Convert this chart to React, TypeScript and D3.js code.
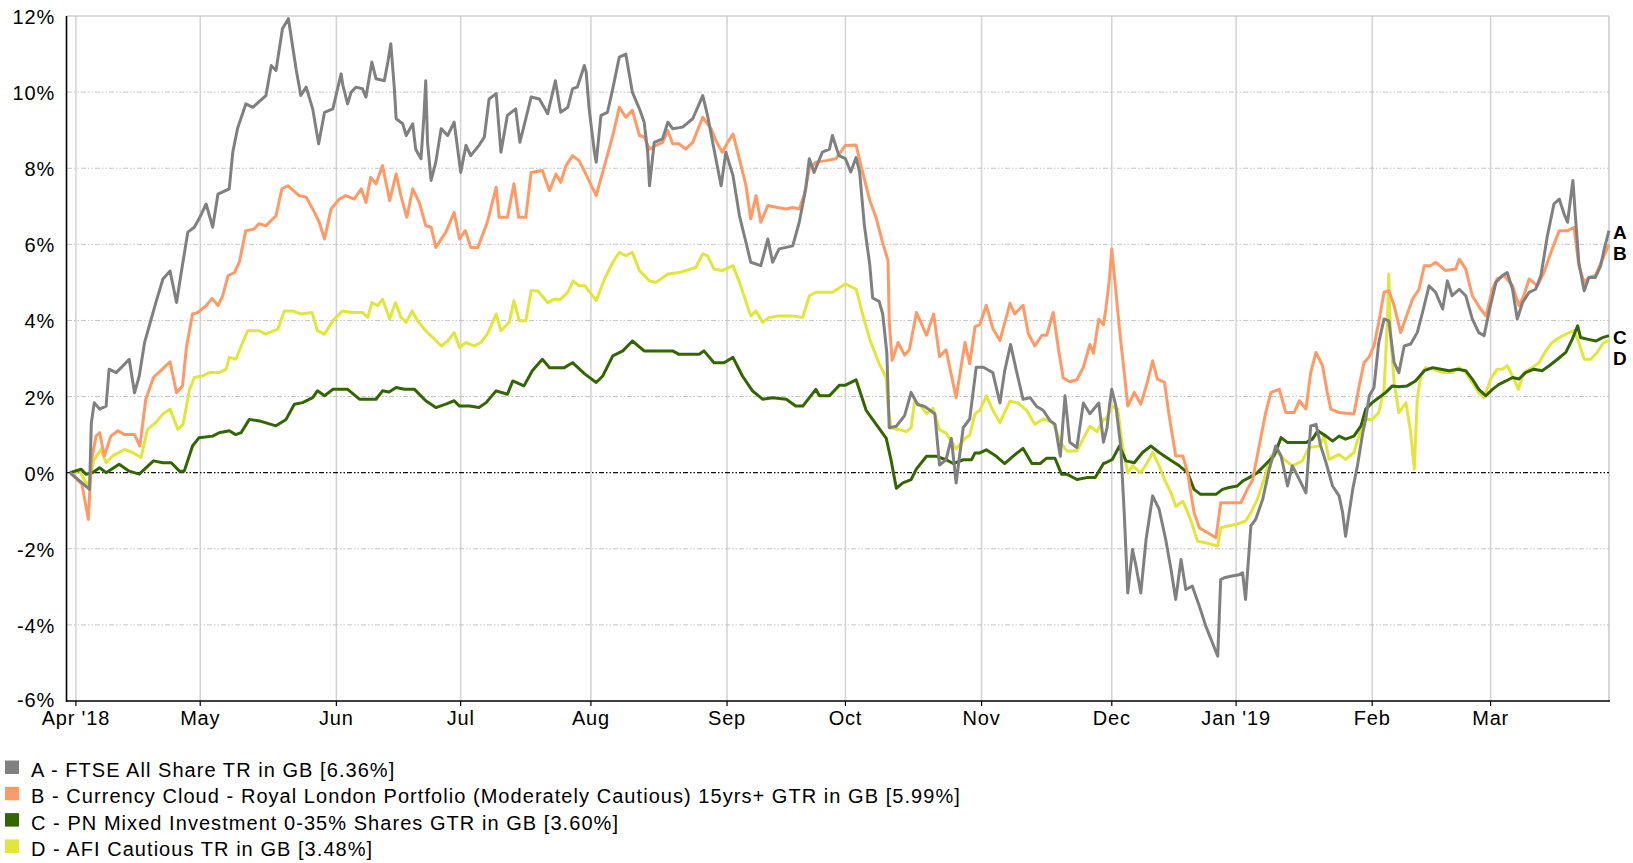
import React from "react";
import * as d3 from "d3";

// x values are trading-day (weekday) numbers counted from 30 Mar 2018; y values are % returns
const START_DATE = "2018-03-30";
const LAST_DAY = 260;

const monthTickDates = ["2018-04-02","2018-05-01","2018-06-01","2018-07-02","2018-08-01","2018-09-03","2018-10-01","2018-11-01","2018-12-03","2019-01-01","2019-02-01","2019-03-01"];
const monthTickLabels = ["Apr '18","May","Jun","Jul","Aug","Sep","Oct","Nov","Dec","Jan '19","Feb","Mar"];
const yTicks = [-6,-4,-2,0,2,4,6,8,10,12];

const seriesNames = [
  "A - FTSE All Share TR in GB [6.36%]",
  "B - Currency Cloud - Royal London Portfolio (Moderately Cautious) 15yrs+ GTR in GB [5.99%]",
  "C - PN Mixed Investment 0-35% Shares GTR in GB [3.60%]",
  "D - AFI Cautious TR in GB [3.48%]",
];
const seriesKeys = ["A","B","C","D"];
const seriesColors = ["#808080","#FF9966","#336600","#E0E63A"];

const seriesA: [number, number][] = [
  [0,0],[3.3,-0.44],[3.6,1.3],[4.1,1.84],[5,1.67],[6.1,1.75],[6.6,2.72],[7.8,2.63],[8.9,2.8],[10,2.98],[10.9,2.1],[11.7,2.54],[12.6,3.42],[13.4,3.86],[14.5,4.47],[15.7,5.09],[16.9,5.3],[18,4.47],[18.7,5.17],[19.9,6.32],[21,6.45],[21.8,6.67],[23,7.06],[24.1,6.45],[25,7.32],[26.9,7.46],[27.5,8.42],[28.3,9.04],[29.7,9.69],[30.9,9.6],[33.1,9.91],[34,10.7],[34.8,10.57],[35.9,11.67],[36.9,11.93],[38.2,10.6],[39,9.91],[39.9,10.13],[41,9.56],[42,8.64],[43,9.47],
  [44.4,9.56],[45.8,10.48],[46.1,10.18],[46.9,9.69],[47.5,10.0],[48.3,10.13],[49.4,10.09],[50,9.87],[51,10.79],[51.7,10.35],[53.1,10.3],[53.7,10.79],[54.2,11.27],[54.8,10.09],[55.1,9.3],[56.2,9.17],[56.8,8.86],[57.9,9.17],[58.4,8.5],[59.3,8.25],[59.8,9.39],[60.1,10.3],[60.4,8.68],[61,7.68],[61.8,8.16],[62.7,9.04],[63.8,8.86],[64.9,9.21],[65.5,8.5],[66,7.89],[66.9,8.6],[67.7,8.33],[69.1,8.6],[70,8.82],[70.8,9.82],[72,9.96],[72.8,8.42],[73.9,9.39],[75.3,9.56],[76,8.68],[77,9.3],[77.9,9.87],[79.3,9.82],[80.7,9.43],[82,10.3],[82.9,9.47],[84.1,9.6],[84.9,10.09],[85.7,10.13],[86.9,10.7],
  [87.2,10.53],[87.7,9.56],[88.6,8.42],[88.9,8.16],[89.7,9.39],[90.8,9.47],[91.7,10.09],[92.8,10.92],[93.9,11.0],[95,10.0],[96.2,9.56],[97,9.21],[97.6,8.42],[97.9,7.54],[98.7,8.68],[100.1,8.77],[101,9.21],[101.8,9.04],[103.5,9.08],[105.2,9.3],[106.9,9.91],[107.7,9.39],[108.8,8.5],[110,7.54],[110.8,8.42],[112,7.81],[113.1,6.75],[114.2,6.05],[115,5.53],[116.7,5.44],[117.9,6.14],[118.7,5.53],[119.8,5.88],[121,5.92],[122.1,5.96],[123.2,6.58],[124.3,7.46],[124.9,8.25],[125.7,7.89],[127.1,8.42],[128.3,8.5],[128.8,8.86],[129.9,8.33],[131,8.25],
  [131.9,7.9],[132.8,8.28],[133.4,7.9],[134.2,6.5],[135.1,5.48],[135.6,4.59],[136.7,4.5],[137.3,4.17],[138,3.14],[138.4,1.18],[139.6,1.22],[141,1.5],[142.1,2.11],[143.2,1.79],[144.4,1.74],[146.1,1.55],[146.9,0.2],[148,0.34],[148.9,0.9],[149.7,-0.27],[150.9,1.18],[152,1.41],[153.1,2.77],[154.3,2.77],[155.9,2.63],[157.1,1.83],[157.9,2.67],[158.9,3.37],[159.9,2.67],[161,1.93],[162.2,1.97],[163.3,1.74],[164.4,1.64],[165.6,1.36],[166.4,1.27],[167.3,0.43],[168.1,2.02],[168.9,0.8],[170.1,0.66],[171.2,1.83],[172.3,1.55],[173.8,1.83],[174.6,0.8],[175.2,1.18],
  [175.6,1.75],[176,2.19],[176.7,1.75],[177.5,0.7],[178.1,-1.05],[178.7,-3.16],[179.5,-2.02],[180.1,-2.46],[180.9,-3.16],[181.8,-1.75],[182.9,-0.61],[184,-0.96],[185.1,-1.75],[186,-2.54],[186.8,-3.33],[187.7,-2.28],[188.5,-3.07],[189.6,-2.98],[190.8,-3.51],[191.9,-4.04],[193,-4.47],[193.9,-4.82],[194.4,-2.81],[195,-2.76],[196.1,-2.72],[197.5,-2.68],[198.1,-2.63],[198.6,-3.33],[199.5,-1.4],[200.3,-1.23],[201.5,-0.7],[202.6,0.09],[203.7,0.7],[204.6,0.44],[205.7,-0.35],[206.5,0.18],[207.4,-0.09],[208.8,-0.53],[209.6,1.23],[210.5,1.27],[211.3,0.7],[212.2,0.26],[213.3,-0.35],[214.4,-0.61],[215,-1.05],[215.5,-1.67],[216.7,-0.44],[217.5,0.18],[218.4,1.05],[218.9,1.4],
  [219.5,2.02],[220.3,2.24],[221.1,3.42],[222,4.04],[222.8,3.99],[223.7,2.89],[224.5,2.63],[225.4,3.33],[226.5,3.38],[227.6,3.68],[228.5,4.21],[229.6,4.91],[230.7,4.74],[231.9,4.3],[232.7,5.04],[233.5,4.65],[234.7,4.82],[235.8,4.65],[236.9,4.04],[238,3.68],[238.9,3.6],[239.7,4.21],[240.9,5.0],[242,5.18],[242.8,5.26],[243.7,4.82],[244.5,4.04],[245.4,4.47],[246.5,4.74],[247.6,4.82],[248.5,5.18],[249.6,6.23],[250.7,7.06],[251.6,7.19],[252.4,6.8],[253,6.58],[253.5,7.19],[253.9,7.68],[254.4,6.58],[254.9,5.53],[255.8,4.78],[256.6,5.13],[257.7,5.13],[258.6,5.44],[259.2,5.88],[260,6.36],
];

const seriesB: [number, number][] = [
  [0,0],[2,-0.3],[3.1,-1.23],[3.6,0.3],[4.4,0.96],[5,1.05],[5.8,0.44],[6.9,0.96],[8.1,1.1],[9.2,1.0],[10.9,1.0],[11.8,0.7],[12.8,1.93],[14.1,2.5],[15.6,2.72],[16.9,2.91],[18,2.1],[19,2.28],[19.7,3.33],[20.7,4.17],[21.6,4.21],[23,4.39],[24,4.58],[25,4.39],[25.8,4.65],[26.7,5.18],[27.8,5.26],[28.6,5.53],[29.7,6.36],[31.1,6.4],[31.9,6.54],[33.1,6.49],[34.8,6.75],[35.8,7.46],[36.8,7.54],[38.7,7.28],[39.9,7.24],[41.3,6.84],[42.1,6.58],[43,6.14],
  [44.1,6.93],[45.5,7.19],[46.6,7.28],[48,7.19],[49.2,7.46],[50,7.1],[50.8,7.76],[51.7,7.59],[52.8,8.07],[54,7.15],[55.1,7.85],[55.9,7.28],[56.9,6.71],[57.9,7.46],[59,7.1],[60.1,6.49],[61,6.45],[61.8,5.92],[63.5,6.32],[64.9,6.84],[65.8,6.14],[66.8,6.36],[67.7,5.92],[68.9,5.92],[70.5,6.58],[72,7.5],[72.5,6.71],[73.9,6.71],[75,7.59],[75.8,6.71],[77,6.71],[77.9,7.89],[79.8,7.94],[81,7.41],[82.1,7.85],[82.9,7.63],[83.8,8.07],[84.9,8.33],[86,8.2],[87,7.89],
  [88.9,7.28],[90.3,8.07],[91.7,8.86],[92.8,9.6],[93.9,9.34],[95,9.52],[96.2,8.86],[97,8.82],[97.9,8.5],[99,8.6],[100.1,8.68],[101,8.99],[101.8,8.64],[102.9,8.64],[104,8.5],[105.2,8.68],[106.9,9.34],[108.3,9.04],[109.1,8.73],[110.2,8.42],[111.1,8.68],[112,8.9],[112.8,8.42],[114.2,7.54],[115,6.67],[115.9,7.28],[116.7,6.58],[117.9,7.02],[119.5,6.97],[121,6.93],[122.1,6.97],[123.2,6.93],[124,7.28],[124.9,7.98],[126,8.16],[127.7,8.2],[129.4,8.25],[131,8.6],
  [132.8,8.61],[133.9,7.9],[135.1,7.16],[136.2,6.69],[137.3,6.04],[138.2,5.57],[138.4,3.98],[138.9,2.95],[139.9,3.42],[141,3.09],[141.8,3.23],[143,4.21],[144.7,3.61],[145.9,4.17],[146.9,3.05],[148,3.23],[149.7,1.97],[151.2,3.42],[152,2.86],[152.9,3.84],[153.7,3.89],[154.8,4.4],[155.9,3.79],[157.1,3.47],[158.8,4.45],[159.6,4.17],[161,4.4],[161.9,3.65],[163,3.33],[164.2,3.61],[165,3.61],[166.1,4.21],[167,3.23],[167.8,2.49],[168.9,2.39],[170.1,2.44],[171.2,2.77],[172.3,3.37],[172.9,3.14],[173.8,4.03],[174.6,3.89],[175,4.3],
  [175.6,5.09],[176,5.88],[176.6,4.91],[177.3,3.77],[178.1,2.63],[178.7,1.75],[179.8,2.11],[180.9,1.8],[182,2.37],[182.9,2.94],[183.7,2.46],[184.9,2.37],[185.7,1.49],[186.8,0.44],[188,0.44],[188.8,0],[189.9,-1.05],[190.8,-1.45],[192.2,-1.58],[193.6,-1.71],[194.4,-0.79],[197.8,-0.79],[198.9,-0.44],[199.8,-0.18],[200.9,0.7],[202,1.58],[202.9,2.11],[204.3,2.19],[205.4,1.58],[206.8,1.58],[207.7,1.89],[208.8,1.67],[209.6,2.63],[210.5,3.16],[211.6,2.81],[212.4,2.11],[213,1.67],[214.4,1.58],[216.9,1.54],[217.8,2.28],[218.6,2.89],[218.9,2.94],
  [219.5,3.05],[220.3,3.33],[221.1,3.95],[222,4.74],[222.8,4.78],[223.7,4.39],[224.8,3.68],[226,4.21],[226.8,4.56],[227.9,4.82],[228.8,5.44],[229.9,5.44],[230.7,5.53],[232.4,5.31],[234.1,5.35],[234.7,5.61],[235.8,5.35],[236.9,4.65],[238.3,4.3],[239.2,4.12],[240.3,4.82],[241.1,5.09],[242.3,5.18],[243.7,4.91],[244.8,4.39],[245.6,4.65],[246.5,5.09],[247.9,4.91],[249,5.26],[250.4,5.88],[251.6,6.36],[253,6.36],[254.1,6.45],[254.9,5.44],[255.8,5.0],[256.6,5.13],[257.7,5.18],[258.9,5.61],[260,5.99],
];

const seriesC: [number, number][] = [
  [0,0],[1.9,0.09],[2.7,-0.04],[3.8,0],[5,0.13],[6.1,0],[8.3,0.22],[10,0.04],[11.7,-0.04],[14.1,0.31],[15.7,0.26],[17.1,0.26],[18.5,0.04],[19.3,0.04],[20.7,0.7],[21.8,0.92],[24.1,0.96],[25.2,1.05],[26.9,1.1],[28,1.0],[28.9,1.05],[30.3,1.4],[32,1.36],[34.8,1.23],[36.5,1.4],[37.9,1.8],[39.3,1.84],[41,1.97],[41.8,2.15],[43,2.02],
  [44.4,2.19],[46.9,2.19],[48.9,1.93],[51.7,1.93],[52.8,2.15],[53.9,2.12],[55.1,2.24],[56.5,2.19],[58.2,2.19],[60.1,1.89],[61.8,1.71],[63.5,1.8],[64.9,1.89],[65.8,1.75],[67.5,1.75],[69.1,1.71],[70.3,1.84],[72,2.15],[73.9,2.06],[74.8,2.41],[76.7,2.28],[78.1,2.68],[79.8,2.98],[81,2.76],[83.5,2.76],[84.9,2.89],[87,2.59],
  [88.9,2.37],[90,2.54],[91.7,3.07],[93.4,3.2],[95,3.46],[97,3.2],[98.4,3.2],[101.8,3.2],[102.9,3.11],[106.3,3.11],[107.1,3.2],[108.8,2.89],[110.5,2.89],[112,3.03],[113.6,2.54],[115.3,2.15],[117,1.93],[118.7,1.97],[121,1.93],[122.6,1.75],[123.8,1.75],[126,2.19],[126.6,2.02],[128.3,2.02],[130,2.3],[131,2.3],
  [132.8,2.44],[134.5,1.64],[136.2,1.27],[137.9,0.9],[138.7,0.34],[139.6,-0.41],[140.7,-0.27],[142.1,-0.18],[143,0.1],[144.7,0.43],[146.4,0.43],[148,0.34],[149.2,0.24],[150.9,0.34],[152.3,0.34],[152.9,0.52],[153.7,0.52],[154.8,0.6],[156.5,0.43],[157.9,0.24],[159.3,0.43],[161,0.64],[162.5,0.24],[163.9,0.24],[165,0.38],[166.4,0.38],[167.5,-0.04],[168.4,-0.04],[170.1,-0.18],[171.8,-0.13],[173.2,-0.13],[174.6,0.24],[175,0.26],
  [176.1,0.35],[177.3,0.7],[178.4,0.31],[179.8,0.26],[181.2,0.53],[182.6,0.7],[184,0.53],[185.7,0.35],[187.4,0.18],[188.8,0],[189.9,-0.44],[191,-0.57],[193.6,-0.57],[194.7,-0.44],[195.8,-0.39],[197.2,-0.35],[198.1,-0.22],[199.2,-0.13],[200.6,0],[202,0.22],[203.4,0.44],[204.6,0.92],[205.7,0.79],[208.8,0.79],[209.9,0.88],[210.8,1.1],[212.2,0.96],[213.3,0.83],[214.4,0.96],[215.5,0.88],[216.9,0.96],[218.1,1.23],[218.9,1.67],
  [220,1.84],[221.1,1.97],[222.3,2.11],[223.4,2.28],[224.5,2.26],[225.9,2.28],[227.3,2.41],[228.8,2.68],[230.2,2.76],[231.6,2.72],[233,2.68],[234.4,2.72],[235.8,2.68],[236.9,2.46],[238,2.19],[239.2,2.02],[240.3,2.19],[241.4,2.32],[242.6,2.41],[243.7,2.5],[244.8,2.46],[245.9,2.63],[247.3,2.72],[248.7,2.68],[249.9,2.81],[251.3,2.98],[252.7,3.16],[253.8,3.51],[254.7,3.86],[255.2,3.55],[256.3,3.51],[257.8,3.46],[258.9,3.55],[260,3.6],
];

const seriesD: [number, number][] = [
  [0,0],[1.6,0.05],[3,-0.35],[4.1,0.35],[5.2,0.61],[6.1,0.26],[7.2,0.44],[9.2,0.61],[10.6,0.53],[12,0.4],[13.1,1.14],[14.5,1.32],[15.7,1.54],[16.9,1.67],[18.2,1.14],[19.1,1.27],[20.2,2.19],[21,2.5],[22.4,2.54],[23.5,2.63],[25.2,2.63],[26.4,2.72],[26.9,3.03],[28,2.98],[30,3.73],[32,3.73],[33,3.64],[35.1,3.77],[36.2,4.25],[37.6,4.25],[39,4.17],[40.9,4.21],[41.8,3.73],[43,3.64],
  [44.4,3.99],[46,4.25],[47.7,4.21],[49.4,4.21],[50.3,4.08],[51,4.47],[52,4.39],[52.8,4.56],[54,4.04],[55,4.47],[55.9,4.08],[56.8,3.95],[57.8,4.25],[58.7,3.99],[60.1,3.73],[61.3,3.55],[62.7,3.33],[63.8,3.46],[64.9,3.68],[65.8,3.29],[66.9,3.42],[68.3,3.33],[69.4,3.42],[70.5,3.64],[71.4,3.95],[72,4.17],[72.8,3.73],[74.2,3.95],[75,4.52],[75.9,3.99],[77,3.99],[77.9,4.78],[79,4.78],[80.7,4.47],[81.8,4.56],[82.9,4.56],[84.1,4.74],[85,5.04],[86,4.91],[87,4.91],
  [88.9,4.52],[90.3,5.09],[91.7,5.53],[92.8,5.79],[93.9,5.7],[95,5.79],[96.2,5.31],[97.9,5.04],[99,5.0],[101,5.22],[102.9,5.26],[104,5.31],[105.7,5.39],[106.9,5.75],[107.7,5.7],[108.8,5.35],[110.2,5.31],[112,5.44],[113.1,5.0],[115,4.12],[115.9,4.25],[117,3.95],[118.1,4.08],[119.8,4.12],[122.1,4.12],[123.8,4.08],[124.9,4.65],[126,4.74],[128.8,4.74],[131,4.96],
  [132.8,4.82],[133.9,4.17],[135.1,3.51],[136.7,2.86],[137.9,2.49],[138.2,1.74],[138.7,1.18],[140.1,1.13],[141.3,1.08],[142.1,1.18],[142.7,1.88],[143.8,1.74],[144.7,1.55],[145.8,1.69],[146.9,1.13],[148,1.04],[149.7,0.62],[151.2,0.9],[152,0.99],[152.9,1.55],[153.7,1.64],[154.8,2.02],[155.9,1.64],[157.1,1.32],[158.8,1.88],[160.2,1.83],[161.6,1.64],[163,1.27],[164.4,1.41],[166.1,1.32],[167.3,0.8],[168.4,0.57],[170.1,0.57],[171.2,0.9],[172.3,1.22],[173.5,1.08],[174.6,1.41],[175,1.4],
  [176.1,1.75],[177,1.67],[177.8,0.7],[178.7,0],[179.5,0.18],[180.9,0],[182,0.26],[182.9,0.53],[184,0.18],[184.9,-0.18],[186,-0.53],[186.8,-0.88],[188,-0.75],[189.1,-1.14],[190.5,-1.8],[191.9,-1.84],[193.9,-1.93],[194.4,-1.45],[195.6,-1.4],[197,-1.36],[198.6,-1.27],[199.5,-1.05],[200.6,-0.7],[201.7,-0.18],[202.9,0.44],[204,0.53],[205.1,0.35],[206.5,0.18],[208.2,0.31],[209.3,0.66],[211,0.7],[211.9,0.96],[212.7,0.35],[214.4,0.48],[215.5,0.35],[216.9,0.53],[218.1,1.14],[218.9,1.4],
  [220,1.4],[221.1,1.58],[222,2.19],[222.6,4.12],[222.8,5.22],[223.1,3.6],[223.7,2.37],[224.5,1.58],[225.7,1.84],[226.5,1.05],[227.1,0.09],[227.6,1.93],[228.2,2.54],[229,2.76],[230.2,2.72],[231.9,2.63],[233.5,2.63],[234.7,2.76],[235.8,2.63],[236.9,2.37],[238,2.11],[238.9,1.97],[240,2.46],[241.1,2.72],[242,2.72],[242.8,2.81],[243.7,2.54],[244.7,2.19],[245.6,2.63],[247,2.76],[248.2,2.89],[249.3,3.2],[250.4,3.42],[251.6,3.55],[252.7,3.64],[254.1,3.73],[254.9,3.42],[255.8,2.98],[256.9,2.98],[258,3.16],[259,3.4],[260,3.48],
];

const allSeries = [seriesA, seriesB, seriesC, seriesD];

const W = 1633, H = 863;
const FONT = "'Liberation Sans', Arial, sans-serif";

function weekdayIndex(dateStr: string): number {
  const parse = d3.timeParse("%Y-%m-%d");
  const s = parse(START_DATE)!;
  const e = parse(dateStr)!;
  return d3.timeDays(s, e).filter((d) => d.getDay() !== 0 && d.getDay() !== 6).length;
}

export default function App() {
  const x = d3.scaleLinear().domain([0, LAST_DAY]).range([70, 1609]);
  const y = d3.scaleLinear().domain([-6, 12]).range([701, 16]);
  const line = d3.line<[number, number]>().x((d) => x(d[0])).y((d) => y(d[1]));
  const tickX = monthTickDates.map((d) => x(weekdayIndex(d)));

  // end labels with simple collision avoidance
  const ends = allSeries.map((s, k) => ({ k, v: s[s.length - 1][1] }));
  const sorted = [...ends].sort((a, b) => b.v - a.v);
  const labelY: Record<number, number> = {};
  let prev = -Infinity;
  sorted.forEach((e) => {
    let yy = y(e.v) + 2;
    if (yy < prev + 20.5) yy = prev + 20.5;
    labelY[e.k] = yy;
    prev = yy;
  });

  const drawOrder = [3, 2, 1, 0];

  return (
    <svg width={W} height={H} style={{ position: "absolute", left: 0, top: 0, background: "#fff" }} fontFamily={FONT}>
      <rect x={0} y={0} width={W} height={H} fill="#fff" />
      {/* vertical month grid */}
      {tickX.map((tx, i) => (
        <line key={"vg" + i} x1={tx} x2={tx} y1={16} y2={701} stroke="#d2d2d2" strokeWidth={1.5} />
      ))}
      {/* horizontal grid */}
      {yTicks.filter((t) => t !== 0 && t !== 12 && t !== -6).map((t) => (
        <line key={"hg" + t} x1={67} x2={1609} y1={y(t)} y2={y(t)} stroke="#c4c4c4" strokeWidth={1} strokeDasharray="5,2,1.5,2,1.5,2" />
      ))}
      {/* top and right borders */}
      <line x1={67} x2={1609} y1={16} y2={16} stroke="#cfcfcf" strokeWidth={1.5} />
      <line x1={1609} x2={1609} y1={16} y2={701} stroke="#c8c8c8" strokeWidth={1.5} />
      {/* zero line */}
      <line x1={67} x2={1609} y1={y(0)} y2={y(0)} stroke="#111" strokeWidth={1.2} strokeDasharray="5,2,1.5,2,1.5,2" />
      {/* series */}
      {drawOrder.map((k) => (
        <path key={"s" + k} d={line(allSeries[k]) || ""} fill="none" stroke={seriesColors[k]} strokeWidth={3} strokeLinejoin="round" />
      ))}
      {/* axes */}
      <line x1={66.5} x2={66.5} y1={16} y2={702} stroke="#000" strokeWidth={1.6} />
      <line x1={66} x2={1610} y1={701} y2={701} stroke="#000" strokeWidth={1.6} />
      {tickX.map((tx, i) => (
        <line key={"tk" + i} x1={tx} x2={tx} y1={701} y2={706} stroke="#000" strokeWidth={1.2} />
      ))}
      {/* y tick labels */}
      {yTicks.map((t) => (
        <text key={"yl" + t} x={55} y={y(t) + (t === -6 ? -1 : 1)} textAnchor="end" dominantBaseline="central" fontSize={20} letterSpacing={0.8} fill="#000">
          {t + "%"}
        </text>
      ))}
      {/* x tick labels */}
      {tickX.map((tx, i) => (
        <text key={"xl" + i} x={tx} y={725} textAnchor="middle" fontSize={20} letterSpacing={0.8} fill="#000">
          {monthTickLabels[i]}
        </text>
      ))}
      {/* end labels */}
      {ends.map((e) => (
        <text key={"el" + e.k} x={1613} y={labelY[e.k]} dominantBaseline="central" fontSize={19} fontWeight="bold" fill="#000">
          {seriesKeys[e.k]}
        </text>
      ))}
      {/* legend */}
      {seriesNames.map((n, i) => {
        const base = 777 + i * 26.3;
        return (
          <g key={"lg" + i}>
            <rect x={5} y={base - 16.5} width={14} height={13.5} fill={seriesColors[i]} />
            <text x={31} y={base} fontSize={20} letterSpacing={1.05} fill="#000">{n}</text>
          </g>
        );
      })}
    </svg>
  );
}
